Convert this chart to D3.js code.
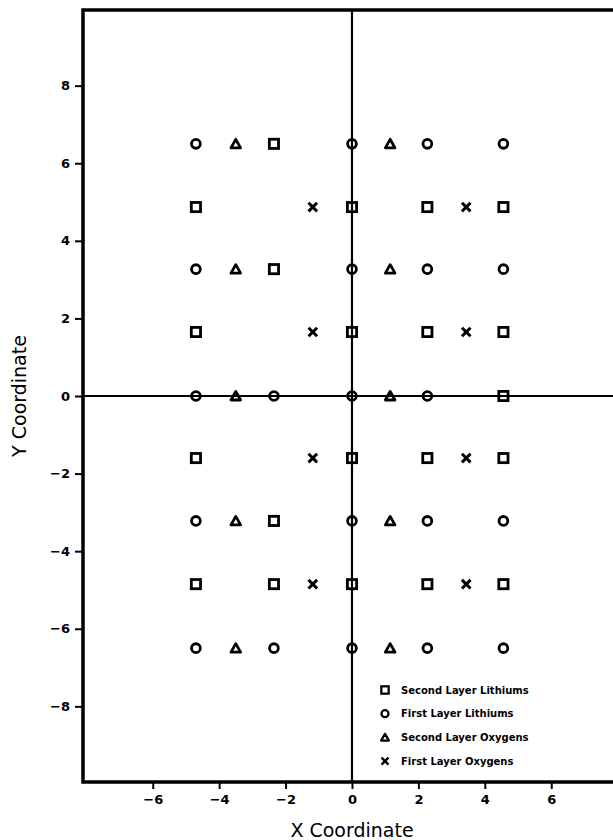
<!DOCTYPE html>
<html>
<head>
<meta charset="utf-8">
<script src="https://cdn.jsdelivr.net/npm/d3@7"></script>
<style>
  body { margin: 0; background: #fff; }
  svg { display: block; }
</style>
</head>
<body>
<svg id="chart"></svg>
<script>
// tick values
var xTicks = [-6, -4, -2, 0, 2, 4, 6];
var yTicks = [-8, -6, -4, -2, 0, 2, 4, 6, 8];

// series as [x, y]
var secondLithiums = [
  [-2.35, 6.5],
  [-4.7, 4.87], [0, 4.87], [2.27, 4.87], [4.56, 4.87],
  [-2.35, 3.27],
  [-4.7, 1.65], [0, 1.65], [2.27, 1.65], [4.56, 1.65],
  [4.56, 0],
  [-4.7, -1.6], [0, -1.6], [2.27, -1.6], [4.56, -1.6],
  [-2.35, -3.22],
  [-4.7, -4.85], [-2.35, -4.85], [0, -4.85], [2.27, -4.85], [4.56, -4.85]
];
var firstLithiums = [
  [-4.7, 6.5], [0, 6.5], [2.27, 6.5], [4.56, 6.5],
  [-4.7, 3.27], [0, 3.27], [2.27, 3.27], [4.56, 3.27],
  [-4.7, 0], [-2.35, 0], [0, 0], [2.27, 0],
  [-4.7, -3.22], [0, -3.22], [2.27, -3.22], [4.56, -3.22],
  [-4.7, -6.5], [-2.35, -6.5], [0, -6.5], [2.27, -6.5], [4.56, -6.5]
];
var secondOxygens = [
  [-3.5, 6.5], [1.15, 6.5],
  [-3.5, 3.27], [1.15, 3.27],
  [-3.5, 0], [1.15, 0],
  [-3.5, -3.22], [1.15, -3.22],
  [-3.5, -6.5], [1.15, -6.5]
];
var firstOxygens = [
  [-1.18, 4.87], [3.44, 4.87],
  [-1.18, 1.65], [3.44, 1.65],
  [-1.18, -1.6], [3.44, -1.6],
  [-1.18, -4.85], [3.44, -4.85]
];

var seriesNames = ["Second Layer Lithiums", "First Layer Lithiums", "Second Layer Oxygens", "First Layer Oxygens"];
var seriesData = [secondLithiums, firstLithiums, secondOxygens, firstOxygens];
var seriesShapes = ["square", "circle", "triangle", "cross"];

var W = 613, H = 840;
var plotL = 83, plotR = 613, plotT = 10, plotB = 782;

var svg = d3.select("#chart")
  .attr("width", W)
  .attr("height", H);

var x = d3.scaleLinear().domain([-8.1, 7.86]).range([plotL, plotR]);
var y = d3.scaleLinear().domain([9.95, -9.95]).range([plotT, plotB]);

// shape drawer
function drawShape(g, shape) {
  var s = 4.6;
  if (shape === "square") {
    g.append("rect")
      .attr("x", -s).attr("y", -s)
      .attr("width", 2 * s).attr("height", 2 * s)
      .attr("fill", "none").attr("stroke", "#000").attr("stroke-width", 2.8);
  } else if (shape === "circle") {
    g.append("circle")
      .attr("r", 4.4)
      .attr("fill", "none").attr("stroke", "#000").attr("stroke-width", 2.8);
  } else if (shape === "triangle") {
    g.append("path")
      .attr("d", "M0,-4.5L4.8,4L-4.8,4Z")
      .attr("fill", "none").attr("stroke", "#000").attr("stroke-width", 2.8)
      .attr("stroke-linejoin", "round");
  } else {
    g.append("path")
      .attr("d", "M-4.3,-4.3L4.3,4.3M-4.3,4.3L4.3,-4.3")
      .attr("fill", "none").attr("stroke", "#000").attr("stroke-width", 3);
  }
}

// axes
var yAxis = svg.append("g")
  .attr("transform", "translate(" + plotL + ",0)")
  .call(d3.axisLeft(y).tickValues(yTicks).tickSize(8).tickPadding(5));
var xAxis = svg.append("g")
  .attr("transform", "translate(0," + plotB + ")")
  .call(d3.axisBottom(x).tickValues(xTicks).tickSize(7).tickPadding(6));

[xAxis, yAxis].forEach(function (a) {
  a.select(".domain").remove();
  a.selectAll(".tick line").attr("stroke", "#000").attr("stroke-width", 2);
  a.selectAll(".tick text")
    .attr("fill", "#000")
    .style("font-family", "DejaVu Sans")
    .style("font-weight", "bold")
    .style("font-size", "13px");
});

// zero lines
svg.append("line")
  .attr("x1", plotL).attr("x2", plotR)
  .attr("y1", y(0)).attr("y2", y(0))
  .attr("stroke", "#000").attr("stroke-width", 2.2);
svg.append("line")
  .attr("x1", x(0)).attr("x2", x(0))
  .attr("y1", plotT).attr("y2", plotB)
  .attr("stroke", "#000").attr("stroke-width", 2.2);

// frame
svg.append("rect")
  .attr("x", plotL).attr("y", plotT)
  .attr("width", plotR - plotL + 10).attr("height", plotB - plotT)
  .attr("fill", "none").attr("stroke", "#000").attr("stroke-width", 3.5);

// points
seriesData.forEach(function (pts, i) {
  svg.append("g").selectAll("g")
    .data(pts)
    .join("g")
      .attr("transform", function (d) { return "translate(" + x(d[0]) + "," + y(d[1]) + ")"; })
      .each(function () { drawShape(d3.select(this), seriesShapes[i]); });
});

// legend
var legend = svg.append("g").attr("transform", "translate(385,690)");
seriesNames.forEach(function (name, i) {
  var row = legend.append("g").attr("transform", "translate(0," + (i * 23.7) + ")");
  var mark = row.append("g").attr("transform", "scale(0.8)");
  drawShape(mark, seriesShapes[i]);
  row.append("text")
    .attr("x", 16).attr("y", 0)
    .attr("dy", "0.35em")
    .style("font-family", "DejaVu Sans")
    .style("font-weight", "bold")
    .style("font-size", "10px")
    .text(name);
});

// axis titles
svg.append("text")
  .attr("x", x(0)).attr("y", 830)
  .attr("dy", "0.35em")
  .attr("text-anchor", "middle")
  .style("font-family", "DejaVu Sans")
  .style("font-size", "19px")
  .text("X Coordinate");
svg.append("text")
  .attr("transform", "translate(19," + y(0) + ") rotate(-90)")
  .attr("dy", "0.35em")
  .attr("text-anchor", "middle")
  .style("font-family", "DejaVu Sans")
  .style("font-size", "19px")
  .text("Y Coordinate");
</script>
</body>
</html>
